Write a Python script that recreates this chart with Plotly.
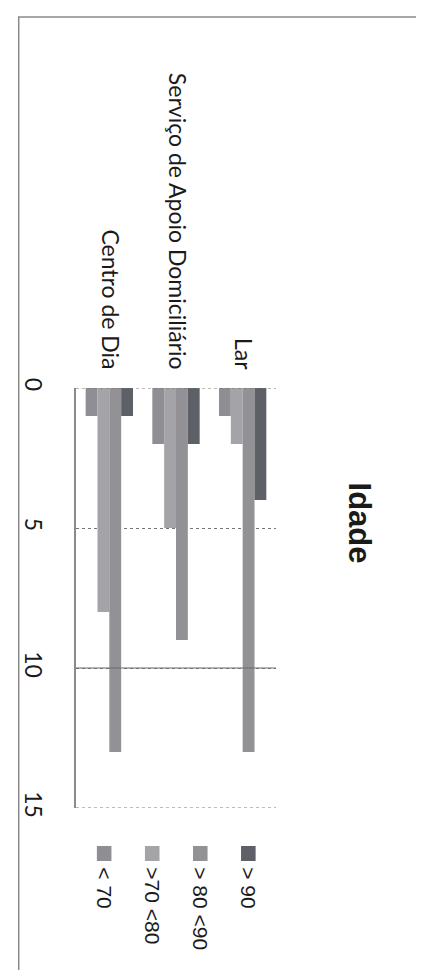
import plotly.graph_objects as go

# ---- data ----
categories = ["Centro de Dia", "Serviço de Apoio Domiciliário", "Lar"]
series_names = ["< 70", ">70 <80", "> 80 <90", "> 90"]
values_lt70 = [1, 2, 1]
values_70_80 = [8, 5, 2]
values_80_90 = [13, 9, 13]
values_gt90 = [1, 2, 4]
value_ticks = [0, 5, 10, 15]
title_text = "Idade"

series_values = [values_lt70, values_70_80, values_80_90, values_gt90]
colors = ["#8e8e94", "#a3a3a8", "#919196", "#5d6067"]

W, H = 424, 970
ML, MR, MT, MB = 62, 156, 380, 170
PW = W - ML - MR
PH = H - MT - MB


def px_x(x):
    return (x - ML) / PW


def px_y(y):
    return (H - MB - y) / PH


fig = go.Figure()
for name, vals, col in zip(series_names, series_values, colors):
    fig.add_trace(go.Bar(x=categories, y=vals, name=name,
                         marker=dict(color=col, line=dict(width=0)),
                         showlegend=False))

shapes = []
annotations = []

# dotted boundary gridlines (first / last tick) and solid one at 10
for v in (value_ticks[0], value_ticks[-1]):
    shapes.append(dict(type="line", xref="paper", yref="y", x0=0, x1=1, y0=v, y1=v,
                       line=dict(color="#777777", width=1, dash="dot")))
shapes.append(dict(type="line", xref="paper", yref="y", x0=0, x1=1,
                   y0=value_ticks[2], y1=value_ticks[2],
                   line=dict(color="#6a6a6a", width=1.2)))

# outer chart frame
shapes.append(dict(type="rect", xref="paper", yref="paper",
                   x0=px_x(3), x1=px_x(417), y0=px_y(1000), y1=px_y(9),
                   line=dict(color="#8a8a8a", width=1.5), fillcolor="rgba(0,0,0,0)"))

# rotated title
annotations.append(dict(text="<b>" + title_text + "</b>", xref="paper", yref="paper",
                        x=px_x(355), y=px_y(515), showarrow=False, textangle=90,
                        xanchor="center", yanchor="middle",
                        font=dict(family="Liberation Sans", size=31, color="#1a1a1a")))

# rotated custom legend
for i, (name, col) in enumerate(zip(series_names, colors)):
    cx = 91 + 49.5 * i
    shapes.append(dict(type="rect", xref="paper", yref="paper",
                       x0=px_x(cx - 7.5), x1=px_x(cx + 7.5),
                       y0=px_y(853), y1=px_y(838),
                       line=dict(width=0), fillcolor=col))
    annotations.append(dict(text=name, xref="paper", yref="paper",
                            x=px_x(cx), y=px_y(857), showarrow=False, textangle=90,
                            xanchor="center", yanchor="top",
                            font=dict(family="Liberation Sans", size=21, color="#1a1a1a")))

fig.update_layout(
    width=W, height=H,
    margin=dict(l=ML, r=MR, t=MT, b=MB, pad=0),
    paper_bgcolor="white", plot_bgcolor="white",
    barmode="group", bargap=0.29, bargroupgap=0,
    showlegend=False,
    shapes=shapes, annotations=annotations,
    xaxis=dict(side="top", tickangle=90, showgrid=False, zeroline=False,
               showline=False, ticks="", ticklabelstandoff=14,
               tickfont=dict(family="Lato", size=23, color="#1a1a1a")),
    yaxis=dict(range=[15, 0], tickvals=value_ticks, tickangle=90,
               showgrid=True, gridcolor="#777777", griddash="dot", gridwidth=1,
               zeroline=False, showline=True, linecolor="#8a8a8a", linewidth=1.5,
               ticks="", ticklabelstandoff=22,
               tickfont=dict(family="Lato", size=23, color="#1a1a1a")),
)

fig.write_html("out.html")
